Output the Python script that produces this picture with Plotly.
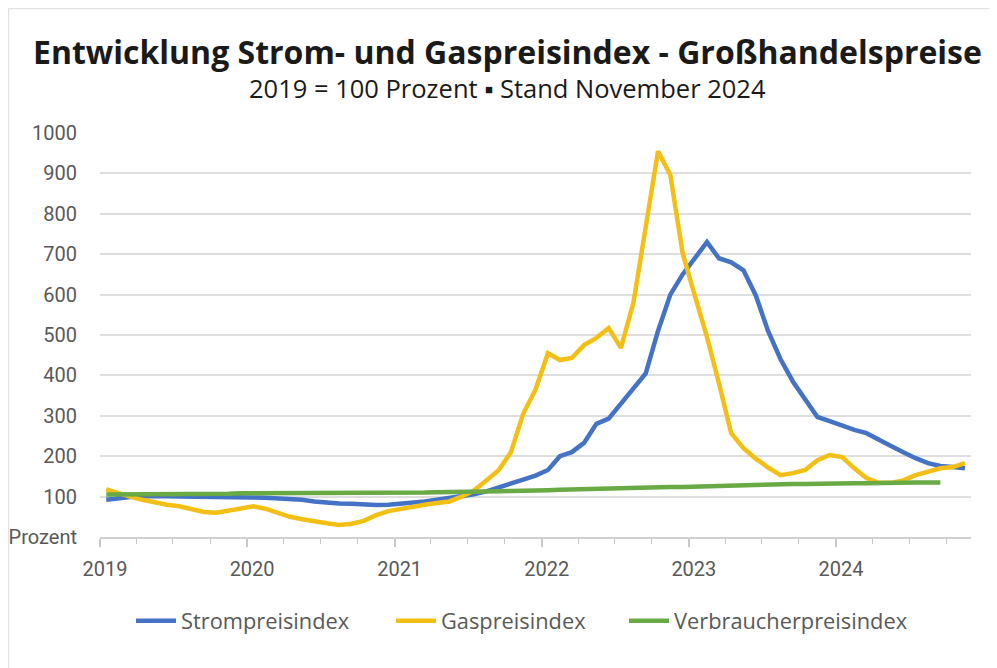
import plotly.graph_objects as go
import pandas as pd

# Monthly data Jan 2019 - Nov 2024 (2019 = 100)
months = pd.date_range("2019-01-01", "2024-11-01", freq="MS").strftime("%Y-%m-%d").tolist()

strom = [92, 96, 99, 101, 102, 101, 100, 100, 99, 99, 99, 99,
         98, 97, 96, 94, 92, 88, 85, 83, 82, 80, 79, 80,
         82, 85, 88, 92, 96, 100, 106, 113, 122, 132, 142, 152,
         166, 200, 210, 233, 280, 293, 330, 370, 405, 510, 600, 650,
         690, 730, 690, 680, 660, 598, 510, 440, 385, 340, 297, 287,
         275, 265, 257, 240, 225, 210, 195, 183, 176, 173, 170]

gas = [118, 108, 100, 92, 85, 80, 76, 70, 62, 60, 65, 72,
       76, 70, 60, 50, 44, 38, 34, 30, 33, 40, 54, 64,
       70, 75, 80, 84, 88, 100, 115, 140, 165, 210, 305, 365,
       455, 438, 443, 475, 493, 517, 468, 580, 775, 955, 896, 703,
       595, 495, 381, 257, 220, 194, 172, 153, 158, 166, 190, 203,
       198, 170, 146, 134, 134, 140, 153, 162, 170, 173, 183]

vpi = [105, 105, 106, 106, 107, 107, 107, 107, 107, 107, 107, 108,
       108, 108, 108, 108, 108, 108, 108, 108, 108, 108, 108, 109,
       109, 110, 110, 111, 111, 112, 112, 113, 113, 114, 114, 115,
       116, 117, 118, 119, 120, 121, 122, 122, 123, 124, 124, 124,
       125, 126, 127, 128, 128, 129, 130, 130, 131, 131, 132, 132,
       132, 133, 133, 134, 134, 134, 135, 135, 135, None, None]

series_names = ["Strompreisindex", "Gaspreisindex", "Verbraucherpreisindex"]
series_colors = ["#4472C4", "#F4BF14", "#6AAA45"]

year_ticks = ["2019-01-01", "2020-01-01", "2021-01-01", "2022-01-01", "2023-01-01", "2024-01-01"]
year_labels = ["2019", "2020", "2021", "2022", "2023", "2024"]
y_ticks = [0, 100, 200, 300, 400, 500, 600, 700, 800, 900, 1000]
y_labels = ["Prozent", "100", "200", "300", "400", "500", "600", "700", "800", "900", "1000"]

FONT = "Roboto"
HFONT = "Open Sans"

# page is offset by the default 8px body margin
OFF = 8
W, H = 997 - OFF, 668 - OFF
L = 100 - OFF
T = 133 - OFF
R = W - (971 - OFF)
B = H - (537 - OFF)
pw, ph = W - L - R, H - T - B

def px_x(px):
    return (px - OFF - L) / pw

def px_y(py):
    return (H - B - (py - OFF)) / ph

legend_ids = ["legend", "legend2", "legend3"]
legend_left = [131, 391, 624]

fig = go.Figure()
for name, vals, col, lid in zip(series_names, [strom, gas, vpi], series_colors, legend_ids):
    fig.add_trace(go.Scatter(
        x=months, y=vals, name=name, mode="lines",
        line=dict(color=col, width=4.5),
        xperiod="M1", xperiodalignment="middle",
        connectgaps=False, legend=lid,
    ))

legend_defs = {}
for lid, lx in zip(legend_ids, legend_left):
    legend_defs[lid] = dict(orientation="h", x=px_x(lx), xanchor="left", y=px_y(621), yanchor="middle",
                            font=dict(size=21.8, color="#595959", family=HFONT),
                            bgcolor="rgba(0,0,0,0)", itemwidth=40)

fig.update_layout(
    width=W, height=H,
    margin=dict(l=L, r=R, t=T, b=B),
    paper_bgcolor="white", plot_bgcolor="white",
    font=dict(family=FONT, color="#595959"),
    showlegend=True,
    **legend_defs,
    annotations=[
        dict(text="<b>Entwicklung Strom- und Gaspreisindex - Großhandelspreise</b>",
             x=px_x(507), y=px_y(51), xref="paper", yref="paper", showarrow=False,
             xanchor="center", yanchor="middle",
             font=dict(size=32, color="#1a1a1a", family=HFONT)),
        dict(text="2019 = 100 Prozent ▪ Stand November 2024",
             x=px_x(507), y=px_y(88), xref="paper", yref="paper", showarrow=False,
             xanchor="center", yanchor="middle",
             font=dict(size=25.5, color="#1a1a1a", family=HFONT)),
    ],
    shapes=[
        dict(type="line", xref="paper", yref="paper", x0=px_x(8.5), x1=px_x(997), y0=px_y(8.5), y1=px_y(8.5),
             line=dict(color="#e3e3e3", width=1.5)),
        dict(type="line", xref="paper", yref="paper", x0=px_x(8.5), x1=px_x(8.5), y0=px_y(8.5), y1=px_y(668),
             line=dict(color="#e3e3e3", width=1.5)),
    ],
)

fig.update_xaxes(
    type="date", range=["2019-01-01", "2024-12-01"], automargin=False,
    tickvals=year_ticks, ticktext=year_labels,
    ticks="outside", ticklen=8, tickwidth=1.5, tickcolor="#c8c8c8",
    minor=dict(dtick="M3", tick0="2019-01-01", ticks="outside", ticklen=5, tickwidth=1.2,
               tickcolor="#c8c8c8", showgrid=False),
    showline=True, linecolor="#d0d0d0", linewidth=2,
    showgrid=False, zeroline=False,
    tickfont=dict(size=20, color="#595959", family=FONT),
    ticklabelstandoff=5, ticklabelshift=5,
)
fig.update_yaxes(
    range=[0, 1000], tickvals=y_ticks, ticktext=y_labels, automargin=False,
    showgrid=True, gridcolor="#dedede", gridwidth=1.5,
    zeroline=False, showline=False, ticks="",
    tickfont=dict(size=20, color="#595959", family=FONT),
    ticklabelstandoff=22,
)

fig.write_html("out.html")
